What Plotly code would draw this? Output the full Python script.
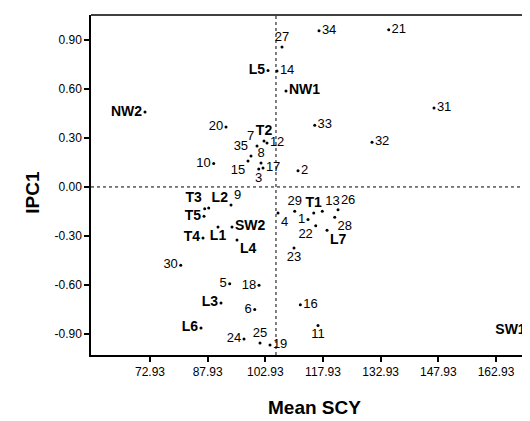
import plotly.graph_objects as go

# ---- data ----
geno_labels = ["1","2","3","4","5","6","7","8","9","10","11","12","13","14","15","16","17","18",
               "19","20","21","22","23","24","25","26","27","28","29","30","31","32","33","34","35"]
geno_x = [114.03,111.43,101.21,106.23,93.66,100.17,100.77,101.81,94.00,89.50,116.63,103.37,117.75,105.97,98.42,112.03,102.33,101.29,
          104.15,92.70,135.03,116.04,110.39,97.38,101.55,121.84,107.27,120.98,110.57,80.92,146.81,130.68,115.78,116.89,99.20]
geno_y = [-0.200,0.100,0.110,-0.159,-0.592,-0.751,0.251,0.147,-0.110,0.143,-0.849,0.269,-0.149,0.710,0.159,-0.721,0.116,-0.602,
          -0.968,0.367,0.963,-0.237,-0.374,-0.931,-0.955,-0.139,0.857,-0.186,-0.149,-0.479,0.484,0.274,0.378,0.957,0.190]
geno_pos = ["middle left","middle right","bottom center","bottom right","middle left","middle left","top left","top center",
            "top right","middle left","bottom center","middle right","top right","middle right","bottom left","middle right",
            "middle right","middle left","middle right","middle left","middle right","bottom left","bottom center","middle left",
            "top center","top right","top center","bottom right","top center","middle left","middle right","middle right",
            "middle right","middle right","top left"]

env_labels = ["NW1","NW2","SW1","SW2","L1","L2","L3","L4","L5","L6","L7","T1","T2","T3","T4","T5"]
env_x = [108.31,71.63,171.40,94.26,90.62,88.20,91.40,95.56,103.63,86.20,118.98,115.52,102.59,87.16,86.72,86.98]
env_y = [0.588,0.459,-0.880,-0.245,-0.245,-0.129,-0.710,-0.325,0.713,-0.863,-0.265,-0.159,0.282,-0.133,-0.312,-0.179]
env_pos = ["middle right","middle left","middle left","middle right","bottom center","top right","middle left","bottom right",
           "middle left","middle left","bottom right","top center","top center","top left","middle left","middle left"]

mean_scy = 105.7
x_ticks = [72.93, 87.93, 102.93, 117.93, 132.93, 147.93, 162.93]
y_ticks = [-0.90, -0.60, -0.30, 0.00, 0.30, 0.60, 0.90]

FONT = "Liberation Sans, Arial, sans-serif"

fig = go.Figure()
fig.add_trace(go.Scatter(
    x=geno_x, y=geno_y, mode="markers+text", text=geno_labels, textposition=geno_pos,
    marker=dict(color="black", size=3), textfont=dict(family=FONT, size=13, color="black"),
    cliponaxis=False, showlegend=False, hoverinfo="text"))
fig.add_trace(go.Scatter(
    x=env_x, y=env_y, mode="markers+text", text=["<b>%s</b>" % s for s in env_labels], textposition=env_pos,
    marker=dict(color="black", size=3), textfont=dict(family=FONT, size=14, color="black"),
    cliponaxis=False, showlegend=False, hoverinfo="text"))

fig.add_shape(type="line", xref="x", yref="paper", x0=mean_scy, x1=mean_scy, y0=0, y1=1,
              line=dict(color="black", width=1, dash="dot"))
fig.add_shape(type="line", xref="paper", yref="y", x0=0, x1=1, y0=0, y1=0,
              line=dict(color="black", width=1, dash="dot"))
fig.add_shape(type="line", xref="paper", yref="paper", x0=0, x1=1, y0=1, y1=1,
              line=dict(color="black", width=1.5))

fig.update_xaxes(range=[57.58, 173.86], tickvals=x_ticks, ticktext=["%.2f" % v for v in x_ticks],
                 showgrid=False, zeroline=False, showline=True, linecolor="black", linewidth=1.5,
                 ticks="outside", ticklen=5, tickwidth=2, tickcolor="black",
                 tickfont=dict(family=FONT, size=12, color="black"))
fig.update_yaxes(range=[-1.029, 1.053], tickvals=y_ticks, ticktext=["%.2f" % v for v in y_ticks],
                 showgrid=False, zeroline=False, showline=True, linecolor="black", linewidth=1.5,
                 ticks="outside", ticklen=5, tickwidth=2, tickcolor="black",
                 tickfont=dict(family=FONT, size=12, color="black"))

fig.add_annotation(text="<b>Mean SCY</b>", xref="paper", yref="paper", x=0.5, y=-0.155,
                   showarrow=False, yanchor="middle", font=dict(family=FONT, size=19, color="black"))
fig.add_annotation(text="<b>IPC1</b>", xref="paper", yref="paper", x=-0.13, y=0.48, textangle=-90,
                   showarrow=False, xanchor="center", font=dict(family=FONT, size=19, color="black"))

fig.update_layout(width=530, height=421, margin=dict(l=83, r=0, t=7, b=74),
                  plot_bgcolor="white", paper_bgcolor="white")
fig.write_html("out.html")
